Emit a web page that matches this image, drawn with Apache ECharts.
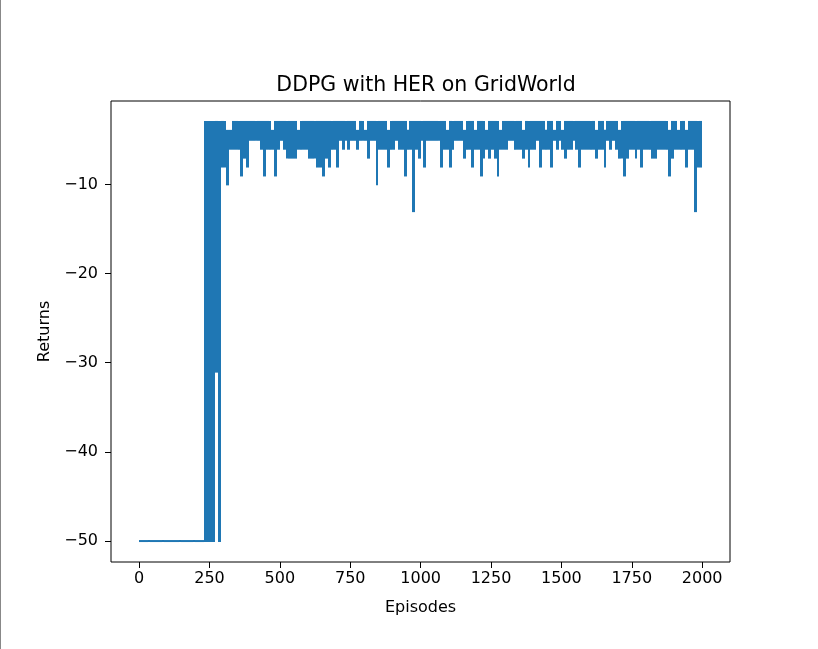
<!DOCTYPE html>
<html>
<head>
<meta charset="utf-8">
<script src="https://cdn.jsdelivr.net/npm/echarts@6/dist/echarts.min.js"></script>
<style>
html,body{margin:0;padding:0;background:#fff;}
#c{width:818px;height:649px;}
</style>
</head>
<body>
<div id="c"></div>
<script>
const binSize = 10;
const lastEpisode = 1999;
const binLow = [
  -50,-50,-50,-50,-50,-50,-50,-50,-50,-50,
  -50,-50,-50,-50,-50,-50,-50,-50,-50,-50,
  -50,-50,-50,-50,-50,-50,-50,-31,-50,-8,
  -8,-10,-6,-6,-6,-6,-9,-7,-8,-5,
  -5,-5,-5,-6,-9,-6,-6,-6,-9,-6,
  -5,-6,-7,-7,-7,-7,-6,-6,-6,-6,
  -7,-7,-7,-8,-8,-9,-7,-8,-6,-6,
  -8,-5,-6,-5,-6,-5,-5,-6,-5,-5,
  -5,-7,-5,-5,-10,-6,-6,-6,-8,-6,
  -6,-5,-6,-6,-9,-6,-6,-13,-6,-7,
  -5,-8,-5,-5,-5,-5,-5,-8,-6,-6,
  -8,-6,-5,-5,-5,-7,-6,-6,-8,-6,
  -6,-9,-7,-6,-7,-6,-7,-9,-6,-6,
  -6,-5,-5,-6,-6,-6,-7,-6,-8,-6,
  -6,-5,-8,-6,-6,-6,-8,-5,-6,-5,
  -6,-7,-6,-6,-5,-6,-8,-6,-6,-6,
  -6,-6,-7,-6,-6,-8,-5,-6,-5,-6,
  -7,-7,-9,-7,-6,-6,-7,-6,-8,-6,
  -6,-6,-7,-7,-6,-6,-6,-6,-9,-7,
  -6,-6,-6,-6,-8,-6,-6,-13,-8,-8
];
const binHigh = [
  -50,-50,-50,-50,-50,-50,-50,-50,-50,-50,
  -50,-50,-50,-50,-50,-50,-50,-50,-50,-50,
  -50,-50,-50,-3,-3,-3,-3,-3,-3,-3,
  -3,-4,-4,-3,-3,-3,-3,-3,-3,-3,
  -3,-3,-3,-3,-3,-3,-3,-4,-3,-3,
  -3,-3,-3,-3,-3,-3,-4,-3,-3,-3,
  -3,-3,-3,-3,-3,-3,-3,-3,-3,-3,
  -3,-3,-3,-3,-3,-3,-3,-4,-3,-3,
  -4,-3,-3,-3,-3,-3,-3,-3,-4,-3,
  -3,-3,-3,-3,-3,-4,-3,-3,-3,-3,
  -3,-3,-3,-3,-3,-3,-3,-3,-3,-4,
  -3,-3,-3,-3,-3,-4,-3,-3,-3,-4,
  -3,-3,-3,-4,-3,-3,-3,-3,-4,-3,
  -3,-3,-3,-3,-3,-3,-4,-3,-3,-3,
  -3,-3,-3,-3,-4,-3,-3,-4,-3,-3,
  -4,-3,-3,-3,-3,-3,-3,-3,-3,-3,
  -3,-3,-4,-3,-3,-4,-3,-3,-3,-3,
  -4,-3,-3,-3,-3,-3,-3,-3,-3,-3,
  -3,-3,-3,-3,-3,-3,-3,-3,-4,-3,
  -3,-4,-3,-3,-4,-3,-3,-3,-3,-3
];
const xTicks = [0, 250, 500, 750, 1000, 1250, 1500, 1750, 2000];
const yTicks = [-50, -40, -30, -20, -10];

// one item per bin: [first episode, end episode, low, high]
const bins = binLow.map((lo, b) => [
  b * binSize,
  Math.min((b + 1) * binSize, lastEpisode),
  lo,
  binHigh[b]
]);

const font = 'DejaVu Sans';
const minusFmt = v => String(v).replace('-', '\u2212');
const blue = '#1f77b4';
const halfLine = 1; // half of the 2px line width

const chart = echarts.init(document.getElementById('c'), null, {renderer: 'canvas'});
chart.setOption({
  animation: false,
  backgroundColor: '#fff',
  title: {
    text: 'DDPG with HER on GridWorld',
    left: 421, top: 70, textAlign: 'center',
    textStyle: {fontFamily: font, fontSize: 20.5, fontWeight: 'normal', color: '#000'}
  },
  graphic: [{
    type: 'rect', shape: {x: 0, y: 0, width: 1, height: 649},
    style: {fill: '#888'}, silent: true
  }],
  grid: {
    left: 111, right: 88, top: 101, bottom: 87,
    containLabel: false, outerBoundsMode: 'none',
    show: true, borderColor: '#000', borderWidth: 1, backgroundColor: 'transparent'
  },
  xAxis: {
    type: 'value', min: -99.95, max: 2098.95,
    name: 'Episodes', nameLocation: 'middle', nameGap: 38,
    nameTextStyle: {fontFamily: font, fontSize: 16, color: '#000'},
    axisLine: {show: false, onZero: false},
    axisTick: {show: true, inside: false, length: 6, customValues: xTicks, lineStyle: {color: '#000', width: 1}},
    axisLabel: {customValues: xTicks, fontFamily: font, fontSize: 16, color: '#000', margin: 9, formatter: minusFmt},
    splitLine: {show: false}
  },
  yAxis: {
    type: 'value', min: -52.35, max: -0.65,
    name: 'Returns', nameLocation: 'middle', nameGap: 54, nameRotate: 90,
    nameTextStyle: {fontFamily: font, fontSize: 16, color: '#000'},
    axisLine: {show: false, onZero: false},
    axisTick: {show: true, inside: false, length: 6, customValues: yTicks, lineStyle: {color: '#000', width: 1}},
    axisLabel: {customValues: yTicks, fontFamily: font, fontSize: 16, color: '#000', margin: 13, formatter: minusFmt},
    splitLine: {show: false}
  },
  series: [{
    type: 'custom',
    data: bins,
    encode: {x: [0, 1], y: [2, 3]},
    clip: true,
    renderItem: function (params, api) {
      const pTop = api.coord([api.value(0), api.value(3)]);
      const pBot = api.coord([api.value(1), api.value(2)]);
      const x0 = Math.round(pTop[0]);
      const x1 = Math.max(Math.round(pBot[0]), x0 + 1);
      return {
        type: 'rect',
        shape: {
          x: x0,
          y: pTop[1] - halfLine,
          width: x1 - x0,
          height: pBot[1] - pTop[1] + 2 * halfLine
        },
        style: {fill: blue}
      };
    }
  }]
});
</script>
</body>
</html>
